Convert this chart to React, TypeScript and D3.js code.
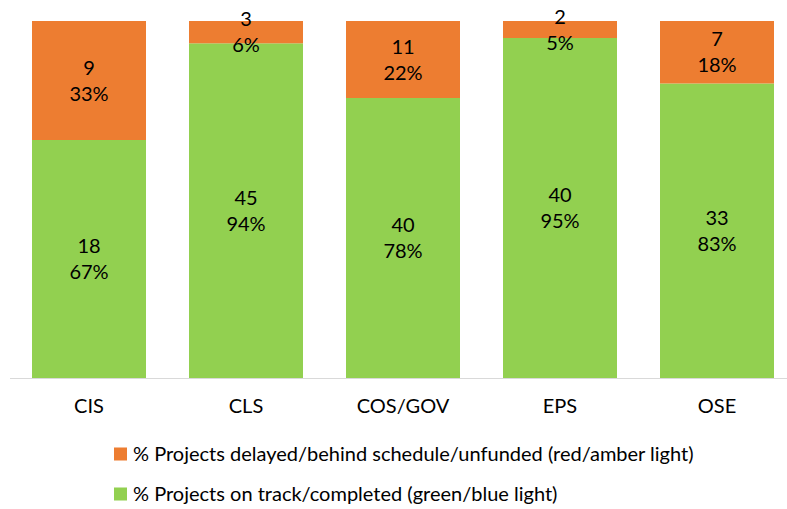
import React from "react";
import * as d3 from "d3";

const categories = ["CIS", "CLS", "COS/GOV", "EPS", "OSE"];
const onTrack = [18, 45, 40, 40, 33];
const delayed = [9, 3, 11, 2, 7];
const seriesNames = [
  "% Projects delayed/behind schedule/unfunded (red/amber light)",
  "% Projects on track/completed (green/blue light)",
];
const colors = { delayed: "#ED7D31", onTrack: "#92D050" };

const W = 787;
const H = 509;
const FONT = "Lato, 'Open Sans', sans-serif";

export default function App() {
  const x = d3
    .scaleBand<string>()
    .domain(categories)
    .range([10.5, 795.5])
    .paddingInner(0.274)
    .paddingOuter(0.137);
  const y = d3.scaleLinear().domain([0, 1]).range([378, 21]);

  const rows = categories.map((c, i) => {
    const total = onTrack[i] + delayed[i];
    return { c, g: onTrack[i], o: delayed[i], gp: onTrack[i] / total, op: delayed[i] / total };
  });

  const lineGap = 26;
  const fs = 20;

  const label = (cx: number, cy: number, v: number, p: number, key: string) => (
    <text key={key} x={cx} textAnchor="middle" fontSize={fs} fill="#000" fontFamily={FONT}>
      <tspan x={cx} y={cy - lineGap / 2} dy="0.35em">{v}</tspan>
      <tspan x={cx} y={cy + lineGap / 2} dy="0.35em">{Math.round(p * 100) + "%"}</tspan>
    </text>
  );

  return (
    <svg width={W} height={H} style={{ position: "absolute", left: 0, top: 0, background: "#fff" }}>
      {rows.map((r) => {
        const x0 = x(r.c)!;
        const bw = x.bandwidth();
        return (
          <g key={r.c}>
            <rect x={x0} y={y(r.gp)} width={bw} height={y(0) - y(r.gp)} fill={colors.onTrack} />
            <rect x={x0} y={y(1)} width={bw} height={y(r.gp) - y(1)} fill={colors.delayed} />
          </g>
        );
      })}
      <line x1={10} x2={W} y1={378.5} y2={378.5} stroke="#D9D9D9" strokeWidth={1} />
      {rows.map((r) => {
        const cx = x(r.c)! + x.bandwidth() / 2;
        return (
          <g key={"l" + r.c}>
            {label(cx, (y(0) + y(r.gp)) / 2, r.g, r.gp, "g")}
            {label(cx, (y(r.gp) + y(1)) / 2, r.o, r.op, "o")}
            <text x={cx} y={406} dy="0.35em" textAnchor="middle" fontSize={fs} fontFamily={FONT} fill="#000">
              {r.c}
            </text>
          </g>
        );
      })}
      {[
        { name: seriesNames[0], color: colors.delayed, cy: 454 },
        { name: seriesNames[1], color: colors.onTrack, cy: 494 },
      ].map((l) => (
        <g key={l.name}>
          <rect x={114} y={l.cy - 6.5} width={13} height={13} fill={l.color} />
          <text x={133} y={l.cy} dy="0.35em" fontSize={fs} fontFamily={FONT} fill="#000">
            {l.name}
          </text>
        </g>
      ))}
    </svg>
  );
}
